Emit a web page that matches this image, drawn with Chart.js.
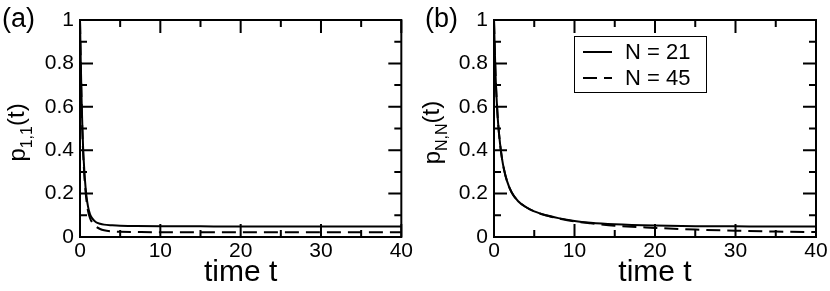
<!DOCTYPE html>
<html>
<head>
<meta charset="utf-8">
<script src="https://cdn.jsdelivr.net/npm/chart.js@4"></script>
<style>
  body { margin: 0; background: #fff; }
  #wrap { position: relative; width: 830px; height: 291px; }
  .panel { position: absolute; top: 0; width: 415px; height: 291px; }
</style>
</head>
<body>
<div id="wrap">
  <div class="panel" style="left:0"><canvas id="chartA" width="415" height="291"></canvas></div>
  <div class="panel" style="left:415px"><canvas id="chartB" width="415" height="291"></canvas></div>
</div>
<script>
// panel (a): p_{1,1}(t)
const tA = [0, 0.1, 0.2, 0.3, 0.4, 0.5, 0.6, 0.8, 1.0, 1.25, 1.5, 2, 2.5, 3, 4, 5, 7, 10, 15, 20, 30, 40];
const pA21 = [1, 0.8, 0.63, 0.5, 0.4, 0.33, 0.27, 0.19, 0.14, 0.105, 0.087, 0.068, 0.061, 0.057, 0.054, 0.052, 0.051, 0.05, 0.049, 0.048, 0.048, 0.048];
const pA45 = [1, 0.79, 0.61, 0.48, 0.38, 0.31, 0.25, 0.17, 0.12, 0.087, 0.068, 0.048, 0.037, 0.031, 0.026, 0.024, 0.023, 0.022, 0.022, 0.022, 0.022, 0.022];

// panel (b): p_{N,N}(t)
const tB = [0, 0.1, 0.2, 0.35, 0.5, 0.75, 1, 1.25, 1.6, 2.2, 3, 4, 5, 6.5, 8, 10, 12, 15, 20, 25, 30, 35, 40];
const pB21 = [1, 0.86, 0.74, 0.62, 0.53, 0.43, 0.36, 0.31, 0.26, 0.205, 0.165, 0.137, 0.118, 0.1, 0.087, 0.074, 0.066, 0.059, 0.053, 0.05, 0.049, 0.048, 0.048];
const pB45 = [1, 0.86, 0.74, 0.62, 0.53, 0.43, 0.36, 0.31, 0.26, 0.205, 0.165, 0.137, 0.118, 0.099, 0.086, 0.072, 0.063, 0.052, 0.042, 0.034, 0.029, 0.025, 0.023];

const seriesLabels = ['N = 21', 'N = 45'];
const xMinorTicks = [5, 15, 25, 35];
const yMinorTicks = [0.1, 0.3, 0.5, 0.7, 0.9];

const FONT = '"Liberation Sans", Arial, Helvetica, sans-serif';

function toPoints(ts, ps) {
  return ts.map((t, i) => ({ x: t, y: ps[i] }));
}

// box around the plot with inward ticks on all four sides
const frameTicks = {
  id: 'frameTicks',
  afterDatasetsDraw(chart) {
    const { ctx, chartArea: a, scales: { x, y } } = chart;
    const MAJOR = 13, MINOR = 7;
    ctx.save();
    ctx.strokeStyle = '#000';
    ctx.lineWidth = 2;
    ctx.beginPath();
    x.ticks.forEach(t => {
      const px = x.getPixelForValue(t.value);
      ctx.moveTo(px, a.bottom); ctx.lineTo(px, a.bottom - MAJOR);
      ctx.moveTo(px, a.top); ctx.lineTo(px, a.top + MAJOR);
    });
    xMinorTicks.forEach(v => {
      const px = x.getPixelForValue(v);
      ctx.moveTo(px, a.bottom); ctx.lineTo(px, a.bottom - MINOR);
      ctx.moveTo(px, a.top); ctx.lineTo(px, a.top + MINOR);
    });
    y.ticks.forEach(t => {
      const py = y.getPixelForValue(t.value);
      ctx.moveTo(a.left, py); ctx.lineTo(a.left + MAJOR, py);
      ctx.moveTo(a.right, py); ctx.lineTo(a.right - MAJOR, py);
    });
    yMinorTicks.forEach(v => {
      const py = y.getPixelForValue(v);
      ctx.moveTo(a.left, py); ctx.lineTo(a.left + MINOR, py);
      ctx.moveTo(a.right, py); ctx.lineTo(a.right - MINOR, py);
    });
    ctx.stroke();
    ctx.strokeRect(a.left, a.top, a.right - a.left, a.bottom - a.top);
    ctx.restore();
  }
};

// rotated y title with subscript, plus the panel letter
const titles = {
  id: 'titles',
  afterDraw(chart, args, opts) {
    const { ctx, chartArea: a } = chart;
    ctx.save();
    ctx.fillStyle = '#000';
    ctx.textBaseline = 'alphabetic';
    ctx.font = '27px ' + FONT;
    ctx.fillText(opts.panel, opts.panelX, 27);

    const big = '24px ' + FONT, small = '16px ' + FONT;
    ctx.font = big; const w1 = ctx.measureText('p').width; const w3 = ctx.measureText('(t)').width;
    ctx.font = small; const w2 = ctx.measureText(opts.sub).width;
    const total = w1 + w2 + w3;
    ctx.translate(opts.titleX, (a.top + a.bottom) / 2 + 4);
    ctx.rotate(-Math.PI / 2);
    let cx = -total / 2;
    ctx.font = big; ctx.fillText('p', cx, 0); cx += w1;
    ctx.font = small; ctx.fillText(opts.sub, cx, 7); cx += w2;
    ctx.font = big; ctx.fillText('(t)', cx, -1);
    ctx.restore();
  }
};

// boxed legend inside panel (b)
const boxLegend = {
  id: 'boxLegend',
  afterDraw(chart, args, opts) {
    if (!opts.show) return;
    const { ctx, chartArea: a } = chart;
    const bx = a.left + 80, by = a.top + 16, bw = 132, bh = 56;
    ctx.save();
    ctx.fillStyle = '#fff';
    ctx.fillRect(bx, by, bw, bh);
    ctx.strokeStyle = '#000';
    ctx.lineWidth = 1;
    ctx.strokeRect(bx + 0.5, by + 0.5, bw, bh);
    chart.data.datasets.forEach((ds, i) => {
      const ry = by + 16 + i * 26;
      ctx.beginPath();
      ctx.setLineDash(ds.borderDash || []);
      ctx.lineWidth = 2;
      ctx.moveTo(bx + 9, ry); ctx.lineTo(bx + 38, ry);
      ctx.stroke();
      ctx.setLineDash([]);
      ctx.fillStyle = '#000';
      ctx.font = '22px ' + FONT;
      ctx.textBaseline = 'middle';
      ctx.fillText(ds.label, bx + 51, ry + 1);
    });
    ctx.restore();
  }
};

function makeChart(id, ts, p21, p45, opts) {
  return new Chart(document.getElementById(id), {
    type: 'line',
    data: {
      datasets: [
        {
          label: seriesLabels[0],
          data: toPoints(ts, p21),
          borderColor: '#000',
          borderWidth: 2,
          pointRadius: 0,
          cubicInterpolationMode: 'monotone'
        },
        {
          label: seriesLabels[1],
          data: toPoints(ts, p45),
          borderColor: '#000',
          borderWidth: 2,
          borderDash: [14, 7],
          pointRadius: 0,
          cubicInterpolationMode: 'monotone'
        }
      ]
    },
    options: {
      responsive: false,
      animation: false,
      events: [],
      layout: { padding: { top: 20, right: opts.right, left: 0, bottom: 0 } },
      plugins: {
        legend: { display: false },
        tooltip: { enabled: false },
        titles: { panel: opts.panel, panelX: opts.panelX, sub: opts.sub, titleX: opts.titleX },
        boxLegend: { show: opts.legend }
      },
      scales: {
        x: {
          type: 'linear',
          min: 0, max: 40,
          ticks: { stepSize: 10, color: '#000', font: { family: FONT, size: 21 }, padding: 2, maxRotation: 0 },
          grid: { display: false, drawTicks: false },
          border: { display: false },
          title: { display: true, text: 'time t', color: '#000', font: { family: FONT, size: 30 }, padding: 0 },
          afterFit(scale) { scale.height = 54; }
        },
        y: {
          type: 'linear',
          min: 0, max: 1,
          ticks: {
            stepSize: 0.2, color: '#000', font: { family: FONT, size: 21 }, padding: 6,
            callback: v => String(+v.toFixed(1))
          },
          grid: { display: false, drawTicks: false },
          border: { display: false },
          afterFit(scale) { scale.width = opts.left; }
        }
      }
    },
    plugins: [frameTicks, titles, boxLegend]
  });
}

makeChart('chartA', tA, pA21, pA45, { panel: '(a)', panelX: 2, sub: '1,1', titleX: 25, left: 80, right: 13, legend: false });
makeChart('chartB', tB, pB21, pB45, { panel: '(b)', panelX: 10, sub: 'N,N', titleX: 25, left: 79, right: 14, legend: true });
</script>
</body>
</html>
